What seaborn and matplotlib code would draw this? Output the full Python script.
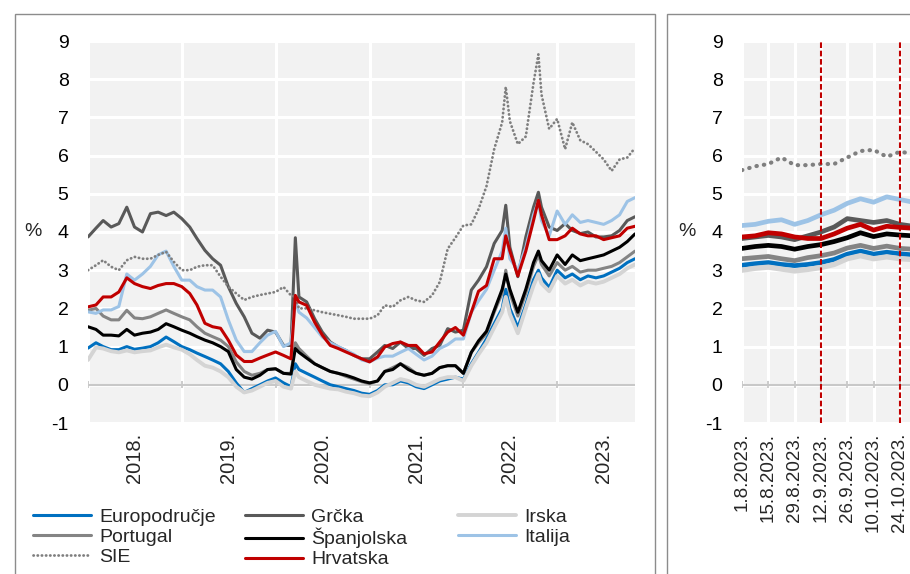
import matplotlib
matplotlib.use("Agg")
import pandas as pd
import matplotlib.pyplot as plt
import matplotlib.dates as mdates
from matplotlib.patches import Rectangle
import seaborn as sns

sns.set_theme(style="white")
plt.rcParams["font.family"] = ["Liberation Sans", "DejaVu Sans"]
plt.rcParams["axes.unicode_minus"] = False

# ---------------- data: left panel (2018 - Oct 2023) ----------------
month_starts = pd.date_range("2018-01-01", "2023-10-01", freq="MS")
extra_dates = pd.to_datetime(["2020-03-18", "2022-06-15", "2022-10-20", "2023-10-31"])
dates_long = month_starts.append(extra_dates).sort_values()

euro = [0.96, 1.1, 1.0, 0.92, 0.92, 1.0, 0.93, 0.96, 1.0, 1.1, 1.25, 1.13,
        1.0, 0.92, 0.83, 0.74, 0.65, 0.55, 0.35, 0.05, -0.2, -0.1, 0.0, 0.1,
        0.18, 0.05, -0.05, 0.55, 0.4, 0.3, 0.2, 0.1, 0.0, -0.05, -0.1, -0.15, -0.22,
        -0.25, -0.15, 0.0, 0.0, 0.1, 0.05, -0.05, -0.1, 0.0, 0.1, 0.15, 0.2,
        0.15, 0.55, 0.85, 1.2, 1.6, 2.0, 2.5, 2.0, 1.5, 2.1, 2.75, 3.0, 2.8, 2.55,
        3.0, 2.8, 2.9, 2.75, 2.85, 2.8, 2.85, 2.95, 3.05, 3.2, 3.3]
greece = [3.87, 4.1, 4.3, 4.13, 4.22, 4.65, 4.13, 4.0, 4.48, 4.52, 4.43, 4.52,
          4.35, 4.13, 3.83, 3.52, 3.3, 3.13, 2.57, 2.13, 1.78, 1.35, 1.22, 1.43,
          1.38, 1.03, 1.03, 3.85, 2.3, 2.17, 1.73, 1.38, 1.12, 0.99, 0.9, 0.77, 0.68,
          0.68, 0.86, 1.03, 0.95, 1.12, 0.95, 0.95, 0.77, 0.95, 1.03, 1.47, 1.38,
          1.43, 2.48, 2.74, 3.09, 3.7, 4.04, 4.7, 3.6, 2.83, 3.87, 4.65, 5.04, 4.65, 4.13,
          4.04, 4.22, 4.04, 3.96, 4.0, 3.87, 3.87, 3.9, 4.04, 4.3, 4.4]
ireland = [0.65, 0.98, 0.95, 0.88, 0.85, 0.9, 0.85, 0.88, 0.9, 0.98, 1.05, 0.98,
           0.92, 0.8, 0.65, 0.5, 0.45, 0.35, 0.2, -0.05, -0.2, -0.15, -0.05, 0.05,
           0.1, -0.05, -0.1, 0.35, 0.2, 0.1, 0.0, -0.05, -0.1, -0.12, -0.18, -0.22, -0.28,
           -0.3, -0.2, -0.05, 0.05, 0.15, 0.1, 0.0, -0.05, 0.05, 0.15, 0.2, 0.2,
           0.1, 0.5, 0.8, 1.1, 1.5, 1.9, 2.3, 1.85, 1.35, 2.0, 2.6, 2.9, 2.65, 2.45,
           2.85, 2.65, 2.75, 2.6, 2.7, 2.65, 2.7, 2.8, 2.9, 3.05, 3.15]
portugal = [1.95, 2.0, 1.8, 1.7, 1.7, 1.95, 1.75, 1.73, 1.78, 1.87, 1.96, 1.87,
            1.78, 1.7, 1.52, 1.35, 1.26, 1.17, 1.0, 0.6, 0.35, 0.25, 0.3, 0.4,
            0.42, 0.3, 0.3, 1.1, 0.95, 0.75, 0.55, 0.45, 0.35, 0.3, 0.22, 0.15, 0.08,
            0.03, 0.1, 0.35, 0.45, 0.55, 0.45, 0.3, 0.25, 0.3, 0.45, 0.5, 0.5,
            0.3, 0.85, 1.1, 1.35, 1.9, 2.4, 3.0, 2.4, 1.8, 2.4, 3.1, 3.4, 3.15, 2.85,
            3.2, 3.0, 3.1, 2.95, 3.0, 3.0, 3.05, 3.1, 3.2, 3.35, 3.5]
spain = [1.52, 1.45, 1.3, 1.3, 1.28, 1.45, 1.3, 1.35, 1.38, 1.45, 1.6, 1.52,
         1.43, 1.35, 1.26, 1.17, 1.1, 1.0, 0.87, 0.4, 0.2, 0.15, 0.25, 0.4,
         0.42, 0.3, 0.28, 0.95, 0.85, 0.7, 0.55, 0.45, 0.35, 0.3, 0.25, 0.18, 0.1,
         0.05, 0.1, 0.35, 0.4, 0.55, 0.4, 0.3, 0.25, 0.3, 0.45, 0.5, 0.5,
         0.3, 0.85, 1.15, 1.4, 1.95, 2.5, 2.9, 2.5, 1.9, 2.5, 3.2, 3.5, 3.25, 3.0,
         3.4, 3.15, 3.4, 3.25, 3.3, 3.35, 3.4, 3.5, 3.6, 3.75, 3.95]
italy = [1.91, 1.87, 1.96, 1.96, 2.05, 2.9, 2.74, 2.9, 3.1, 3.4, 3.5, 3.1,
         2.74, 2.74, 2.57, 2.48, 2.48, 2.3, 1.7, 1.17, 0.87, 0.87, 1.1, 1.3,
         1.4, 1.0, 1.1, 2.2, 1.9, 1.75, 1.5, 1.25, 1.1, 1.0, 0.9, 0.8, 0.65,
         0.6, 0.7, 0.75, 0.75, 0.85, 0.95, 0.8, 0.65, 0.75, 0.95, 1.05, 1.2,
         1.2, 1.9, 2.2, 2.5, 3.0, 3.5, 4.1, 3.3, 3.0, 3.6, 4.45, 4.8, 4.3, 3.9,
         4.55, 4.2, 4.45, 4.25, 4.3, 4.25, 4.2, 4.3, 4.45, 4.8, 4.9]
sie = [3.0, 3.13, 3.26, 3.09, 3.0, 3.26, 3.35, 3.3, 3.3, 3.4, 3.48, 3.22,
       3.0, 3.0, 3.09, 3.13, 3.13, 2.83, 2.57, 2.39, 2.22, 2.3, 2.35, 2.39,
       2.43, 2.56, 2.34, 2.3, 2.0, 2.0, 1.95, 1.9, 1.86, 1.82, 1.78, 1.73, 1.73,
       1.73, 1.82, 2.08, 2.04, 2.21, 2.3, 2.21, 2.17, 2.34, 2.69, 3.56, 3.85,
       4.17, 4.2, 4.6, 5.2, 6.17, 6.87, 7.8, 6.9, 6.3, 6.5, 7.9, 8.65, 7.6, 6.7,
       6.96, 6.17, 6.87, 6.4, 6.3, 6.1, 5.9, 5.6, 5.9, 5.95, 6.2]
croatia = [2.04, 2.09, 2.3, 2.3, 2.43, 2.8, 2.65, 2.57, 2.52, 2.6, 2.65, 2.65,
           2.57, 2.39, 2.09, 1.61, 1.52, 1.48, 1.17, 0.78, 0.61, 0.61, 0.7, 0.78,
           0.86, 0.77, 0.68, 2.34, 2.17, 2.08, 1.64, 1.3, 1.03, 0.95, 0.86, 0.77, 0.68,
           0.6, 0.73, 0.99, 1.08, 1.12, 1.03, 1.03, 0.81, 0.86, 1.12, 1.38, 1.5,
           1.3, 1.9, 2.45, 2.6, 3.3, 3.3, 3.9, 3.5, 2.85, 3.5, 4.3, 4.83, 4.45, 3.8,
           3.8, 3.9, 4.1, 3.95, 3.9, 3.9, 3.8, 3.85, 3.9, 4.1, 4.15]

# ---------------- data: right panel (Aug - Oct 2023, weekly) ----------------
dates_short = pd.date_range("2023-08-01", "2023-10-31", freq="7D")
euro_s = [3.13, 3.17, 3.2, 3.15, 3.12, 3.15, 3.2, 3.28, 3.42, 3.5, 3.42, 3.47, 3.43, 3.4]
greece_s = [3.83, 3.87, 3.91, 3.87, 3.8, 3.9, 4.0, 4.13, 4.35, 4.3, 4.25, 4.3, 4.2, 4.15]
ireland_s = [3.0, 3.05, 3.08, 3.03, 2.98, 3.02, 3.07, 3.15, 3.3, 3.38, 3.3, 3.35, 3.3, 3.28]
portugal_s = [3.3, 3.33, 3.36, 3.3, 3.25, 3.33, 3.38, 3.45, 3.58, 3.65, 3.57, 3.63, 3.57, 3.55]
spain_s = [3.57, 3.62, 3.65, 3.62, 3.55, 3.62, 3.67, 3.75, 3.85, 3.98, 3.88, 3.95, 3.92, 3.9]
italy_s = [4.17, 4.2, 4.28, 4.32, 4.2, 4.3, 4.45, 4.57, 4.75, 4.87, 4.78, 4.92, 4.85, 4.78]
sie_s = [5.62, 5.72, 5.78, 5.95, 5.75, 5.75, 5.78, 5.78, 5.95, 6.12, 6.15, 5.97, 6.1, 6.05]
croatia_s = [3.87, 3.9, 3.98, 3.95, 3.87, 3.83, 3.83, 3.95, 4.1, 4.2, 4.05, 4.15, 4.12, 4.1]

short_ticks = pd.date_range("2023-08-01", "2023-11-07", freq="14D")
event_dates = pd.to_datetime(["2023-09-12", "2023-10-24"])

labels = ["Europodručje", "Grčka", "Irska", "Portugal", "Španjolska", "Italija", "SIE", "Hrvatska"]
long_vals = [euro, greece, ireland, portugal, spain, italy, sie, croatia]
short_vals = [euro_s, greece_s, ireland_s, portugal_s, spain_s, italy_s, sie_s, croatia_s]
colors = ["#0070c0", "#595959", "#d4d4d4", "#848484", "#000000", "#9dc3e6", "#7f7f7f", "#c00000"]

# ---------------- figure ----------------
W, H = 910, 574
fig = plt.figure(figsize=(W / 100, H / 100), dpi=100)
fig.patch.set_facecolor("white")

# panel frames
fig.add_artist(Rectangle((15 / W, -0.3), (655 - 15) / W, 0.3 + 1 - 14 / H,
                         transform=fig.transFigure, fill=False, ec="#8c8c8c", lw=1.0))
fig.add_artist(Rectangle((667 / W, -0.3), 0.6, 0.3 + 1 - 14 / H,
                         transform=fig.transFigure, fill=False, ec="#8c8c8c", lw=1.0))

ax_bottom = 1 - 423 / H
ax_height = (423 - 41) / H
ax1 = fig.add_axes([88 / W, ax_bottom, (635 - 88) / W, ax_height])
ax2 = fig.add_axes([742 / W, ax_bottom, 100 * 1.88 / W, ax_height])


def style_axis(ax):
    ax.set_facecolor("#f2f2f2")
    for s in ax.spines.values():
        s.set_visible(False)
    ax.set_ylim(-1, 9)
    ax.set_yticks(range(-1, 10))
    ax.grid(True, which="major", color="white", lw=2.2)
    ax.set_axisbelow(True)
    ax.tick_params(axis="y", which="both", length=0, pad=14, labelsize=14, colors="#000000")
    ax.set_ylabel("%", rotation=0, fontsize=14, ha="right", va="center", labelpad=7)
    ax.axhline(0, color="#c8c8c8", lw=1.5, zorder=1.5)


# left panel
style_axis(ax1)
ax1.set_xlim(dates_long[0], dates_long[-1])
year_starts = pd.date_range("2018-01-01", "2023-01-01", freq="YS")
ax1.set_xticks(year_starts)
ax1.set_xticklabels([])
ax1.xaxis.set_minor_locator(mdates.MonthLocator(bymonth=7, bymonthday=1))
ax1.xaxis.set_minor_formatter(mdates.DateFormatter("%Y."))
ax1.tick_params(axis="x", which="both", length=0, pad=7)
ax1.tick_params(axis="x", which="minor", labelsize=14.5, labelrotation=90)
ax1.vlines(year_starts, -0.09, 0.09, color="#c8c8c8", lw=1.3, zorder=1.5)

handles = {}
for name, vals, col in zip(labels, long_vals, colors):
    kw = dict(lw=2.2)
    if name == "SIE":
        kw = dict(lw=2.0, linestyle=(0, (0.1, 1.4)), dash_capstyle="round")
    elif name == "Irska":
        kw = dict(lw=2.8)
    sns.lineplot(x=dates_long, y=vals, ax=ax1, color=col, estimator=None, legend=False, **kw)
    handles[name] = ax1.get_lines()[-1]
ax1.set_xlabel("")

# right panel
style_axis(ax2)
ax2.set_xlim(pd.Timestamp("2023-08-01"), pd.Timestamp("2023-11-09"))
ax2.set_xticks(short_ticks)
ax2.set_xticklabels([f"{d.day}.{d.month}.{d.year}." for d in short_ticks],
                    rotation=90, fontsize=13.5)
ax2.tick_params(axis="x", length=0, pad=7)
ax2.vlines(short_ticks, -0.09, 0.09, color="#c8c8c8", lw=1.3, zorder=1.5)
for name, vals, col in zip(labels, short_vals, colors):
    kw = dict(lw=3.4)
    if name == "SIE":
        kw = dict(lw=3.0, linestyle=(0, (0.1, 1.7)), dash_capstyle="round")
    elif name == "Irska":
        kw = dict(lw=3.8)
    sns.lineplot(x=dates_short, y=vals, ax=ax2, color=col, estimator=None, legend=False, **kw)
for d in event_dates:
    ax2.axvline(d, color="#c00000", lw=1.5, linestyle=(0, (2.7, 1.3)), zorder=6)
ax2.set_xlabel("")

# legend: three columns with equal pitch
columns = [["Europodručje", "Portugal", "SIE"],
           ["Grčka", "Španjolska", "Hrvatska"],
           ["Irska", "Italija"]]
col_x = [33, 245, 458]
for xs, names in zip(col_x, columns):
    fig.legend([handles[n] for n in names], names, loc="upper left",
               bbox_to_anchor=(xs / W, 1 - 508 / H), frameon=False, fontsize=14,
               handlelength=3.0, handletextpad=0.4, labelspacing=0.12,
               borderpad=0, borderaxespad=0)

fig.savefig("out.png", dpi=100, facecolor="white")
